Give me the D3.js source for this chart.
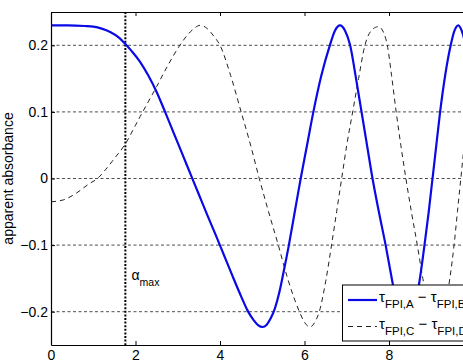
<!DOCTYPE html>
<html><head><meta charset="utf-8">
<script src="https://cdn.jsdelivr.net/npm/d3@7"></script>
<style>body{margin:0;background:#fff}svg{display:block}text{font-family:"Liberation Sans",Arial,Helvetica,sans-serif}</style>
</head><body><svg id="c" width="463" height="362"></svg>
<script>
// ---- data ----
const xDomain = [0, 10];
const yDomain = [-0.25, 0.25];
const xTicks = [0, 2, 4, 6, 8, 10];
const xTickLabels = ["0", "2", "4", "6", "8", ""];
const yTicks = [-0.2, -0.1, 0, 0.1, 0.2];
const yTickLabels = ["\u22120.2", "\u22120.1", "0", "0.1", "0.2"];
const alphaMax = 1.76;

const seriesAX = [0,0.4,0.8,1.0,1.2,1.4,1.6,1.76,1.9,2.1,2.3,2.5,2.7,2.9,3.1,3.3,3.5,3.7,3.9,4.1,4.3,4.5,4.65,4.8,4.9,5.01,5.1,5.2,5.3,5.4,5.5,5.63,5.77,5.91,6.06,6.21,6.40,6.60,6.72,6.84,6.96,7.08,7.22,7.35,7.48,7.61,7.76,7.92,8.08,8.22,8.31,8.40,8.49,8.60,8.72,8.84,8.94,9.03,9.12,9.21,9.33,9.46,9.55,9.64,9.72,9.81,9.92,10.0];
const seriesAY = [0.230,0.230,0.229,0.228,0.225,0.220,0.212,0.202,0.192,0.176,0.155,0.130,0.100,0.069,0.038,0.007,-0.024,-0.055,-0.085,-0.116,-0.147,-0.177,-0.198,-0.213,-0.220,-0.223,-0.220,-0.210,-0.195,-0.172,-0.142,-0.100,-0.050,0.000,0.050,0.100,0.155,0.200,0.222,0.230,0.222,0.200,0.150,0.100,0.050,0.000,-0.050,-0.100,-0.155,-0.200,-0.217,-0.223,-0.217,-0.195,-0.155,-0.100,-0.050,0.000,0.050,0.100,0.155,0.200,0.222,0.230,0.222,0.200,0.155,0.120];

const seriesCX = [0,0.3,0.6,0.9,1.1,1.3,1.5,1.76,2.0,2.11,2.3,2.5,2.75,3.05,3.25,3.4,3.53,3.7,3.85,4.0,4.25,4.5,4.69,4.93,5.15,5.38,5.6,5.88,6.0,6.13,6.25,6.35,6.5,6.64,6.76,6.88,7.0,7.14,7.28,7.43,7.58,7.75,7.88,7.96,8.06,8.17,8.28,8.40,8.53,8.67,8.80,8.95,9.03,9.12,9.22,9.30,9.44,9.54,9.62,9.70,9.78,9.86,9.95,10.0];
const seriesCY = [-0.035,-0.032,-0.022,-0.008,0.000,0.014,0.030,0.052,0.080,0.093,0.115,0.138,0.168,0.200,0.217,0.226,0.230,0.225,0.214,0.200,0.155,0.100,0.058,0.000,-0.050,-0.100,-0.150,-0.200,-0.216,-0.223,-0.215,-0.200,-0.155,-0.100,-0.050,0.000,0.050,0.100,0.150,0.200,0.222,0.228,0.218,0.200,0.155,0.100,0.050,0.000,-0.050,-0.100,-0.150,-0.200,-0.215,-0.223,-0.215,-0.200,-0.150,-0.100,-0.050,0.000,0.050,0.100,0.150,0.175];

const legendLabels = [["\u03C4", "FPI,A", " \u2212 \u03C4", "FPI,B"], ["\u03C4", "FPI,C", " \u2212 \u03C4", "FPI,D"]];

// ---- drawing ----
const svg = d3.select("#c");
const L = 51, T = 12, B = 345, R = 473.5;
const x = d3.scaleLinear().domain(xDomain).range([L, R]);
const y = d3.scaleLinear().domain(yDomain).range([B, T]);

svg.append("rect").attr("width", 463).attr("height", 362).attr("fill", "#fff");
svg.append("defs").append("clipPath").attr("id", "clip")
  .append("rect").attr("x", L).attr("y", T).attr("width", R - L).attr("height", B - T);

// grid
svg.append("g").selectAll("line").data(yTicks).join("line")
  .attr("x1", L).attr("x2", R).attr("y1", d => y(d)).attr("y2", d => y(d))
  .attr("stroke", "#222").attr("stroke-width", 0.8).attr("stroke-dasharray", "3,2.5");

// alpha max line
svg.append("line").attr("x1", x(alphaMax)).attr("x2", x(alphaMax)).attr("y1", T).attr("y2", B)
  .attr("stroke", "#000").attr("stroke-width", 2).attr("stroke-dasharray", "2,1.6");

const line = d3.line().x(d => x(d[0])).y(d => y(d[1])).curve(d3.curveMonotoneX);
const g = svg.append("g").attr("clip-path", "url(#clip)");
g.append("path").datum(seriesCX.map((v, i) => [v, seriesCY[i]])).attr("d", line)
  .attr("fill", "none").attr("stroke", "#222").attr("stroke-width", 1).attr("stroke-dasharray", "5,4");
g.append("path").datum(seriesAX.map((v, i) => [v, seriesAY[i]])).attr("d", line)
  .attr("fill", "none").attr("stroke", "#0a0ae6").attr("stroke-width", 2.2);

// axes
const fmtX = (d, i) => xTickLabels[i];
const ax = svg.append("g").attr("transform", `translate(0,${B})`)
  .call(d3.axisBottom(x).tickValues(xTicks).tickFormat(fmtX).tickSizeInner(-4).tickSizeOuter(0).tickPadding(5));
const at = svg.append("g").attr("transform", `translate(0,${T})`)
  .call(d3.axisTop(x).tickValues(xTicks).tickFormat("").tickSizeInner(-4).tickSizeOuter(0));
const ay = svg.append("g").attr("transform", `translate(${L},0)`)
  .call(d3.axisLeft(y).tickValues(yTicks).tickFormat((d, i) => yTickLabels[i]).tickSizeInner(-4).tickSizeOuter(0).tickPadding(3));
[ax, at, ay].forEach(s => {
  s.selectAll("text").attr("font-size", 14).attr("fill", "#000").attr("font-family", '"Liberation Sans",Arial,sans-serif');
  s.selectAll("line").attr("stroke", "#000");
  s.select(".domain").attr("stroke", "#000").attr("stroke-width", 1.2);
});
at.select(".domain").attr("stroke-width", 1);

// y label
svg.append("text").attr("transform", "translate(12.8,178.5) rotate(-90)")
  .attr("text-anchor", "middle").attr("font-size", 14).text("apparent absorbance");

// alpha label
const al = svg.append("text").attr("x", 131.5).attr("y", 279.5).attr("font-size", 14);
al.append("tspan").text("\u03B1");
al.append("tspan").attr("font-size", 10.5).attr("dy", 6).text("max");

// legend
const lg = svg.append("g");
lg.append("rect").attr("x", 342.5).attr("y", 285).attr("width", 140).attr("height", 56)
  .attr("fill", "#fff").attr("stroke", "#000").attr("stroke-width", 1);
const rowsY = [300, 326.5];
lg.append("line").attr("x1", 348).attr("x2", 377).attr("y1", rowsY[0]).attr("y2", rowsY[0])
  .attr("stroke", "#0a0ae6").attr("stroke-width", 2.2);
lg.append("line").attr("x1", 348).attr("x2", 377).attr("y1", rowsY[1]).attr("y2", rowsY[1])
  .attr("stroke", "#222").attr("stroke-width", 1).attr("stroke-dasharray", "5,4");
legendLabels.forEach((parts, i) => {
  const t = lg.append("text").attr("x", 379).attr("y", rowsY[i] + 2).attr("font-size", 15);
  t.append("tspan").text(parts[0]);
  t.append("tspan").attr("font-size", 11.5).attr("dy", 6).text(parts[1]);
  t.append("tspan").attr("dy", -6).text(parts[2]);
  t.append("tspan").attr("font-size", 11.5).attr("dy", 6).text(parts[3]);
});
</script></body></html>
